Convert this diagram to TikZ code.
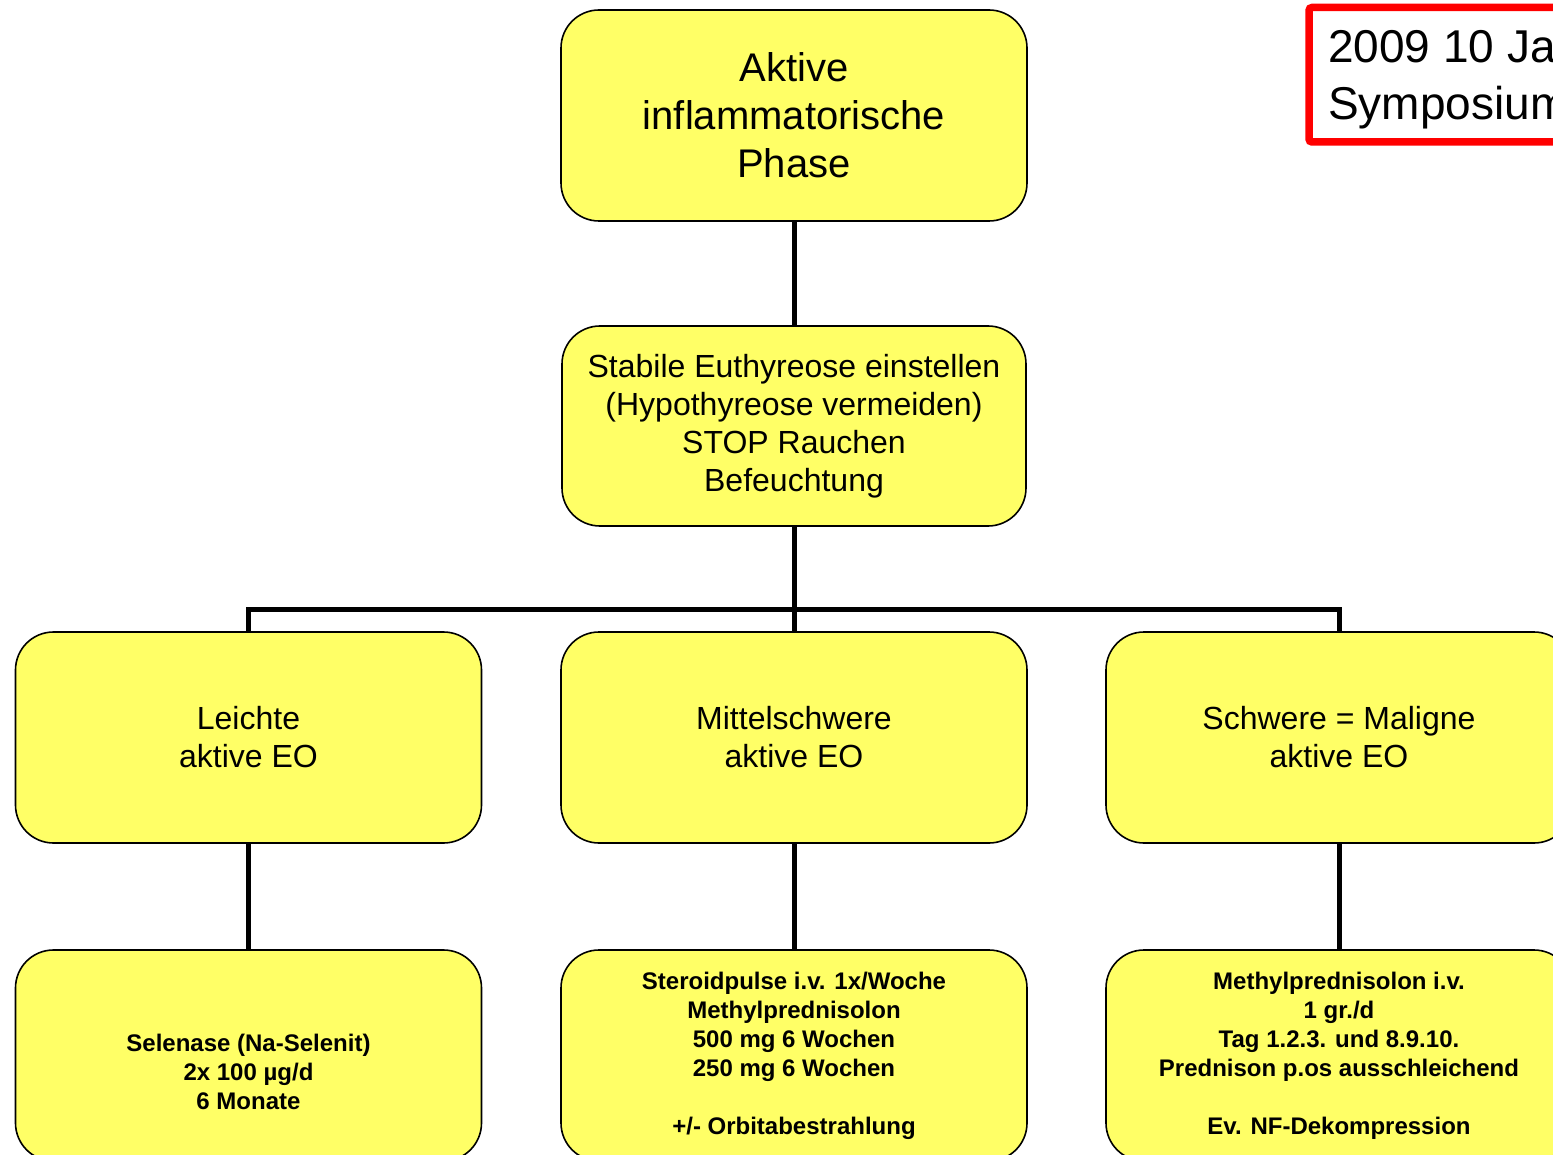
\documentclass[tikz,border=0pt]{standalone}
\usepackage{fontspec}
\setmainfont{Liberation Sans}
\definecolor{boxyellow}{RGB}{255,255,102}
\definecolor{framered}{RGB}{255,0,0}
\begin{document}
\begin{tikzpicture}[x=1pt,y=-1pt,
  phasebox/.style={draw=black,line width=1.6pt,fill=boxyellow,rounded corners=38pt,
    inner sep=0pt,align=center,minimum width=466pt,minimum height=211pt},
  conn/.style={line width=5pt,black,line join=miter},
  bigtext/.style={font=\fontsize{40}{48}\selectfont},
  midtext/.style={font=\fontsize{32}{38}\selectfont},
  smalltext/.style={font=\bfseries\fontsize{24}{29}\selectfont}]
\useasboundingbox (0,0) rectangle (1553,1155);
\clip (0,0) rectangle (1553,1155);

% header stages
\node[phasebox,bigtext] (top) at (794,115.5) {Aktive\\inflammatorische\\Phase};
\node[phasebox,midtext,minimum width=464pt,minimum height=200pt] (stab) at (794,426)
  {Stabile Euthyreose einstellen\\(Hypothyreose vermeiden)\\STOP Rauchen\\Befeuchtung};

% severity grades
\node[phasebox,midtext] (mild) at (248.5,737.5) {Leichte\\aktive EO};
\node[phasebox,midtext] (mod)  at (794,737.5) {Mittelschwere\\aktive EO};
\node[phasebox,midtext] (sev)  at (1339,737.5) {Schwere = Maligne\\aktive EO};

% therapies
\node[phasebox,smalltext] (tmild) at (248.5,1055.5)
  {\strut\\Selenase (Na-Selenit)\\2x 100 µg/d\\6 Monate};
\node[phasebox,smalltext] (tmod) at (794,1055.5)
  {Steroidpulse i.v. 1x/Woche\\Methylprednisolon\\500 mg 6 Wochen\\250 mg 6 Wochen\\\strut\\+/- Orbitabestrahlung};
\node[phasebox,smalltext] (tsev) at (1339,1055.5)
  {Methylprednisolon i.v.\\1 gr./d\\Tag 1.2.3. und 8.9.10.\\Prednison p.os ausschleichend\\\strut\\Ev. NF-Dekompression};

% connectors
\coordinate (bus) at (794,609);
\draw[conn] (top.south) -- (stab.north);
\draw[conn] (stab.south) -- (bus) -- (mod.north);
\draw[conn] (mild.north) -- (mild.north |- bus) -- (sev.north |- bus) -- (sev.north);
\draw[conn] (mild.south) -- (tmild.north);
\draw[conn] (mod.south) -- (tmod.north);
\draw[conn] (sev.south) -- (tsev.north);

% date label
\draw[framered,line width=7.5pt,fill=white,rounded corners=3pt] (1309,7.5) rectangle (1620,142);
\node[anchor=base west,inner sep=0pt,font=\fontsize{46}{57}\selectfont] (date) at (1328,63) {2009 10 Jahre};
\node[anchor=base west,inner sep=0pt,font=\fontsize{46}{57}\selectfont] (symp) at (1328,120) {Symposium};
\end{tikzpicture}
\end{document}
